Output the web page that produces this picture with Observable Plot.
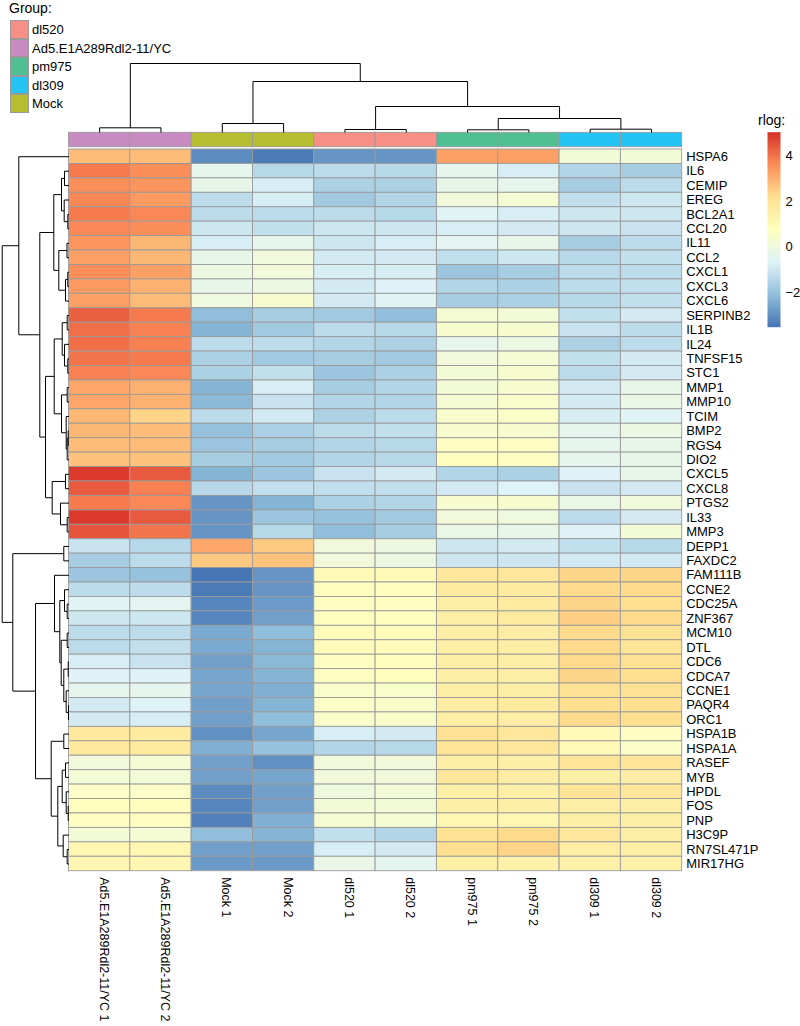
<!DOCTYPE html>
<html><head><meta charset="utf-8">
<script src="https://cdn.jsdelivr.net/npm/d3@7"></script>
<script src="https://cdn.jsdelivr.net/npm/@observablehq/plot@0.6"></script>
<style>
body{margin:0;background:#fff;font-family:"Liberation Sans",Arial,Helvetica,sans-serif;}
#chart{position:relative;width:800px;height:1026px;overflow:hidden;background:#fff}
#chart svg{position:absolute;left:0;top:0}
.lg{position:absolute;font-size:13px;color:#000;white-space:nowrap;line-height:1}
</style></head>
<body><div id="chart"></div>
<script>
// ---------- data ----------
const genes = ["HSPA6","IL6","CEMIP","EREG","BCL2A1","CCL20","IL11","CCL2","CXCL1","CXCL3","CXCL6","SERPINB2","IL1B","IL24","TNFSF15","STC1","MMP1","MMP10","TCIM","BMP2","RGS4","DIO2","CXCL5","CXCL8","PTGS2","IL33","MMP3","DEPP1","FAXDC2","FAM111B","CCNE2","CDC25A","ZNF367","MCM10","DTL","CDC6","CDCA7","CCNE1","PAQR4","ORC1","HSPA1B","HSPA1A","RASEF","MYB","HPDL","FOS","PNP","H3C9P","RN7SL471P","MIR17HG"];
const samples = ["Ad5.E1A289Rdl2-11/YC 1","Ad5.E1A289Rdl2-11/YC 2","Mock 1","Mock 2","dl520 1","dl520 2","pm975 1","pm975 2","dl309 1","dl309 2"];
const sampleGroup = ["Ad5.E1A289Rdl2-11/YC","Ad5.E1A289Rdl2-11/YC","Mock","Mock","dl520","dl520","pm975","pm975","dl309","dl309"];
const groupNames = ["dl520","Ad5.E1A289Rdl2-11/YC","pm975","dl309","Mock"];
const groupColors = ["#F78F87","#C78AC1","#4FBE92","#23C4F3","#B5BE2E"];

// rlog values, one array per sample (rows in gene order)
const ad5_1 = [2.8,3.9,3.6,3.7,3.9,3.7,3.5,3.3,3.6,3.4, 3.3,4.3,4.1,4.1,4.0,3.8,3.2,3.2,2.9,2.9, 2.8,2.7,4.9,4.4,3.9,4.9,4.5,-1.1,-1.7,-1.9, -1.3,-0.6,-1.0,-1.3,-1.3,-0.8,-0.7,-0.4,-0.9,-0.9, 1.8,1.8,0.1,0.2,0.6,0.8,0.7,0.2,1.2,1.2];
const ad5_2 = [2.8,3.6,3.5,3.4,3.7,3.6,2.9,2.9,3.3,3.0, 2.8,3.9,3.8,3.8,3.9,3.7,3.0,3.0,2.4,2.8, 2.8,2.7,4.4,3.8,3.7,4.4,4.0,-1.4,-1.3,-2.0, -1.3,-0.5,-1.0,-1.3,-1.2,-1.1,-0.7,-0.4,-0.7,-0.8, 1.7,1.7,0.3,0.2,0.6,0.8,0.7,0.3,1.2,1.2];
const mock_1 = [-3.1,-0.4,-0.3,-1.3,-1.3,-1.0,-0.8,-0.3,-0.1,-0.3, 0.0,-2.1,-2.3,-1.3,-1.6,-1.6,-2.3,-2.2,-1.3,-2.0, -1.9,-1.7,-2.3,-1.4,-2.9,-2.9,-2.9,3.2,2.6,-3.5, -3.4,-3.2,-3.2,-2.5,-2.5,-2.7,-2.6,-2.6,-2.7,-2.7, -3.0,-2.4,-2.7,-2.7,-3.1,-3.2,-3.3,-2.1,-2.7,-2.8];
const mock_2 = [-3.4,-1.4,-0.8,-0.8,-1.3,-1.2,-0.4,0.1,0.1,-0.1, 0.4,-1.7,-1.8,-1.3,-1.8,-1.2,-0.8,-1.1,-0.9,-1.6, -1.7,-1.8,-1.9,-1.2,-2.3,-1.9,-1.4,2.6,2.7,-2.9, -2.9,-2.8,-2.7,-2.1,-2.3,-2.2,-2.3,-2.4,-2.3,-2.1, -2.6,-2.0,-3.0,-2.6,-2.7,-2.7,-2.4,-2.3,-2.7,-2.8];
const dl520_1 = [-2.9,-1.3,-1.6,-1.8,-1.3,-1.0,-1.0,-0.9,-0.8,-0.9, -0.9,-1.8,-1.3,-1.5,-1.7,-1.9,-1.7,-1.5,-1.6,-1.3, -1.5,-1.5,-1.1,-1.2,-1.6,-2.0,-2.1,0.1,0.1,1.0, 0.8,0.7,0.8,0.9,0.9,0.7,0.7,0.5,0.6,0.5, -0.8,-1.5,0.1,0.1,0.0,0.2,0.3,-1.2,-0.8,-0.2];
const dl520_2 = [-2.9,-1.4,-1.6,-1.5,-1.4,-1.0,-0.8,-0.9,-0.8,-0.7, -0.6,-2.1,-1.4,-1.6,-1.8,-1.6,-1.5,-1.5,-1.3,-1.2, -1.4,-1.4,-0.9,-1.2,-1.5,-1.8,-1.7,-0.1,-0.1,1.0, 0.8,0.7,0.8,0.9,0.9,0.8,0.8,0.5,0.5,0.5, -0.9,-1.4,0.1,0.1,0.2,0.2,0.3,-1.5,-0.9,-0.5];
const pm975_1 = [3.3,-0.4,-0.3,0.1,-0.6,-0.8,-0.5,-1.2,-1.9,-1.5, -1.7,0.3,0.4,-0.4,0.1,0.2,0.2,0.3,0.5,0.4, 0.7,0.8,-1.5,-0.9,0.4,0.1,-0.2,-1.0,-1.0,1.9, 1.7,1.6,1.6,1.6,1.5,1.6,1.6,1.6,1.6,1.6, 2.1,2.0,1.6,1.9,1.5,1.5,1.2,2.1,2.2,1.5];
const pm975_2 = [3.3,-0.8,-0.4,0.3,-0.8,-0.9,-0.3,-1.0,-1.7,-1.6, -1.6,0.2,0.4,-0.1,0.3,0.4,0.4,0.5,0.6,0.4, 0.7,0.7,-1.6,-0.7,0.4,0.0,-0.3,-0.9,-1.0,1.9, 1.7,1.7,1.7,1.6,1.6,1.6,1.6,1.6,1.7,1.6, 1.9,1.9,1.5,1.6,1.5,1.5,1.2,2.3,2.4,1.4];
const dl309_1 = [0.2,-1.5,-1.7,-1.2,-1.0,-1.0,-1.7,-1.4,-1.3,-1.3, -1.4,-1.2,-1.1,-1.6,-1.2,-1.3,-0.9,-0.9,-0.8,-0.4, -0.4,-0.4,-0.7,-1.1,-0.2,-1.3,-0.7,-1.2,-0.9,2.4, 2.3,2.4,2.5,2.3,2.3,2.3,2.4,2.1,2.2,2.3, 1.0,1.0,2.0,1.5,2.0,1.6,1.5,1.9,1.6,1.4];
const dl309_2 = [0.2,-1.7,-1.3,-1.0,-1.0,-1.1,-1.3,-1.2,-1.3,-1.2, -1.2,-0.9,-1.3,-1.3,-0.9,-0.9,-0.3,-0.2,-0.6,-0.1, -0.3,-0.3,-0.3,-0.9,0.1,-0.9,0.2,-1.4,-0.9,2.4, 2.3,2.2,2.3,2.1,2.0,2.1,2.2,2.1,2.2,2.2, 0.7,0.6,2.0,1.6,1.9,1.6,1.5,1.6,1.6,1.4];

// hierarchical clustering merges: [left, right, height]; a number refers to an earlier merge
const rowMerges = [
 ["IL6","CEMIP",4.5],["BCL2A1","CCL20",1.2],["EREG",1,4.8],[0,2,7.5],["IL11","CCL2",2.0],
 ["CXCL1","CXCL3",1.2],[5,"CXCL6",3.5],[4,6,10.2],[3,7,15.2],["SERPINB2","IL1B",1.8],
 ["TNFSF15","STC1",1.2],["IL24",10,4.5],[9,11,6.8],["MMP1","MMP10",1.8],["BMP2","RGS4",0.8],
 [14,"DIO2",1.8],["TCIM",15,2.8],[13,16,7.5],[12,17,14.8],["CXCL5","CXCL8",3.5],
 ["IL33","MMP3",1.8],["PTGS2",20,8.5],[19,21,16.8],[18,22,23.5],[8,23,29.2],
 ["HSPA6",24,50.2],["DEPP1","FAXDC2",5.2],["CDC25A","ZNF367",1.8],["CCNE2",27,4.5],["MCM10","DTL",1.8],
 ["CDC6","CDCA7",0.8],["PAQR4","ORC1",0.5],["CCNE1",31,2.8],[30,32,5.2],[29,33,7.8],
 [28,34,9.2],["FAM111B",35,14.5],["HSPA1B","HSPA1A",5.2],["RASEF","MYB",3.5],["FOS","PNP",0.8],
 ["HPDL",39,2.8],[38,40,6.8],["RN7SL471P","MIR17HG",1.8],["H3C9P",42,5.8],[41,43,11.2],
 [37,44,17.8],[36,45,33.5],[26,46,56.2],[25,47,66.8]
];
const colMerges = [
 ["Ad5.E1A289Rdl2-11/YC 1","Ad5.E1A289Rdl2-11/YC 2",4.7],["Mock 1","Mock 2",9],["dl520 1","dl520 2",3],
 ["pm975 1","pm975 2",2.7],["dl309 1","dl309 2",3.3],[3,4,14],[2,5,26],[1,6,51],[0,7,69]
];

const rlogMin = -3.52, rlogMax = 5.05;
const rdylbu = ["#4575B4","#91BFDB","#E0F3F8","#FFFFBF","#FEE090","#FC8D59","#D73027"];
const legendTicks = [-2, 0, 2, 4];

// ---------- build ----------
const W = 800, H = 1026;
const mL = 68.5, mR = 118.3, mT = 149, mB = 155.3;
const font = '"Liberation Sans", Arial, Helvetica, sans-serif';
const color = {type: "linear", domain: [rlogMin, rlogMax], interpolate: d3.piecewise(d3.interpolateRgb, rdylbu)};
const cols = [ad5_1, ad5_2, mock_1, mock_2, dl520_1, dl520_2, pm975_1, pm975_2, dl309_1, dl309_2];
const cells = genes.flatMap((g, r) => samples.map((s, c) => ({gene: g, sample: s, value: cols[c][r]})));
const groupColor = Object.fromEntries(groupNames.map((g, i) => [g, groupColors[i]]));

function dendro(merges, leaves) {
  const pos = [], ht = [], segs = [];
  const P = r => typeof r === "number" ? pos[r] : leaves.indexOf(r) + 0.5;
  const Hh = r => typeof r === "number" ? ht[r] : 0;
  merges.forEach(([a, b, h], i) => {
    const pa = P(a), pb = P(b);
    segs.push({p1: pa, h1: Hh(a), p2: pa, h2: h});
    segs.push({p1: pa, h1: h, p2: pb, h2: h});
    segs.push({p1: pb, h1: Hh(b), p2: pb, h2: h});
    pos[i] = (pa + pb) / 2; ht[i] = h;
  });
  return segs;
}

const chart = document.getElementById("chart");
const baseStyle = {fontFamily: font, fontSize: "13px", background: "transparent", color: "#000"};

// heatmap
const heat = Plot.plot({
  width: W, height: H, marginLeft: mL, marginRight: mR, marginTop: mT, marginBottom: mB,
  style: baseStyle,
  x: {type: "band", domain: samples, padding: 0, round: false, axis: null},
  y: {type: "band", domain: genes, padding: 0, round: false, axis: null},
  color,
  marks: [
    Plot.cell(cells, {x: "sample", y: "gene", fill: "value", stroke: "#9a9a9a", strokeWidth: 0.9, inset: 0}),
    Plot.text(genes, {y: d => d, frameAnchor: "right", dx: 4, textAnchor: "start", fill: "#000"}),
    Plot.text(samples, {x: d => d, frameAnchor: "bottom", rotate: 90, textAnchor: "start", dy: 6, fill: "#000", fontSize: 12.5})
  ]
});
chart.appendChild(heat);

// annotation bar
const annot = Plot.plot({
  width: W, height: H, marginLeft: mL, marginRight: mR, marginTop: 132.3, marginBottom: H - 146.7,
  style: baseStyle,
  x: {type: "band", domain: samples, padding: 0, round: false, axis: null},
  y: {type: "band", domain: ["Group"], padding: 0, round: false, axis: null},
  marks: [
    Plot.cell(samples, {x: d => d, y: () => "Group", fill: (d, i) => groupColor[sampleGroup[i]], stroke: "#9a9a9a", strokeWidth: 0.9, inset: 0})
  ]
});
chart.appendChild(annot);

// column dendrogram
const colSegs = dendro(colMerges, samples);
const colTree = Plot.plot({
  width: W, height: H, marginLeft: mL, marginRight: mR, marginTop: 63, marginBottom: H - 132,
  style: baseStyle,
  x: {domain: [0, samples.length], axis: null},
  y: {domain: [0, 69], axis: null},
  marks: [Plot.link(colSegs, {x1: "p1", y1: "h1", x2: "p2", y2: "h2", stroke: "#000", strokeWidth: 1})]
});
chart.appendChild(colTree);

// row dendrogram
const rowSegs = dendro(rowMerges, genes);
const rowTree = Plot.plot({
  width: W, height: H, marginLeft: 1.7, marginRight: W - mL, marginTop: mT, marginBottom: mB,
  style: baseStyle,
  x: {domain: [66.8, 0], axis: null},
  y: {domain: [0, genes.length], reverse: true, axis: null},
  marks: [Plot.link(rowSegs, {x1: "h1", y1: "p1", x2: "h2", y2: "p2", stroke: "#000", strokeWidth: 1})]
});
chart.appendChild(rowTree);

// color legend
const fmt = d => d < 0 ? "\u2212" + Math.abs(d) : String(d);
const legend = Plot.plot({
  width: W, height: H, marginLeft: 767, marginRight: 20, marginTop: 131.7, marginBottom: H - 326.7,
  style: baseStyle,
  x: {domain: [0, 1], axis: null},
  y: {domain: [rlogMin, rlogMax], axis: null},
  color,
  marks: [
    Plot.raster({x1: 0, x2: 1, y1: rlogMin, y2: rlogMax, width: 1, height: 300, fill: (x, y) => y}),
    Plot.text(legendTicks, {x: 1, y: d => d, dx: 5, textAnchor: "start", text: fmt, fill: "#000"})
  ]
});
chart.appendChild(legend);

// text legends (HTML)
function addText(txt, left, top, size) {
  const el = document.createElement("div");
  el.className = "lg"; el.textContent = txt;
  el.style.left = left + "px"; el.style.top = top + "px"; el.style.fontSize = size + "px";
  chart.appendChild(el);
}
addText("Group:", 9, 1, 14);
addText("rlog:", 758, 113, 14);
groupNames.forEach((g, i) => {
  const sq = document.createElement("div");
  sq.style.cssText = `position:absolute;left:9.5px;top:${20 + i * 18.5}px;width:19px;height:18.5px;box-sizing:border-box;border:1px solid #9a9a9a;background:${groupColors[i]}`;
  chart.appendChild(sq);
  addText(g, 32, 20 + i * 18.5 + 3, 13);
});
</script></body></html>
